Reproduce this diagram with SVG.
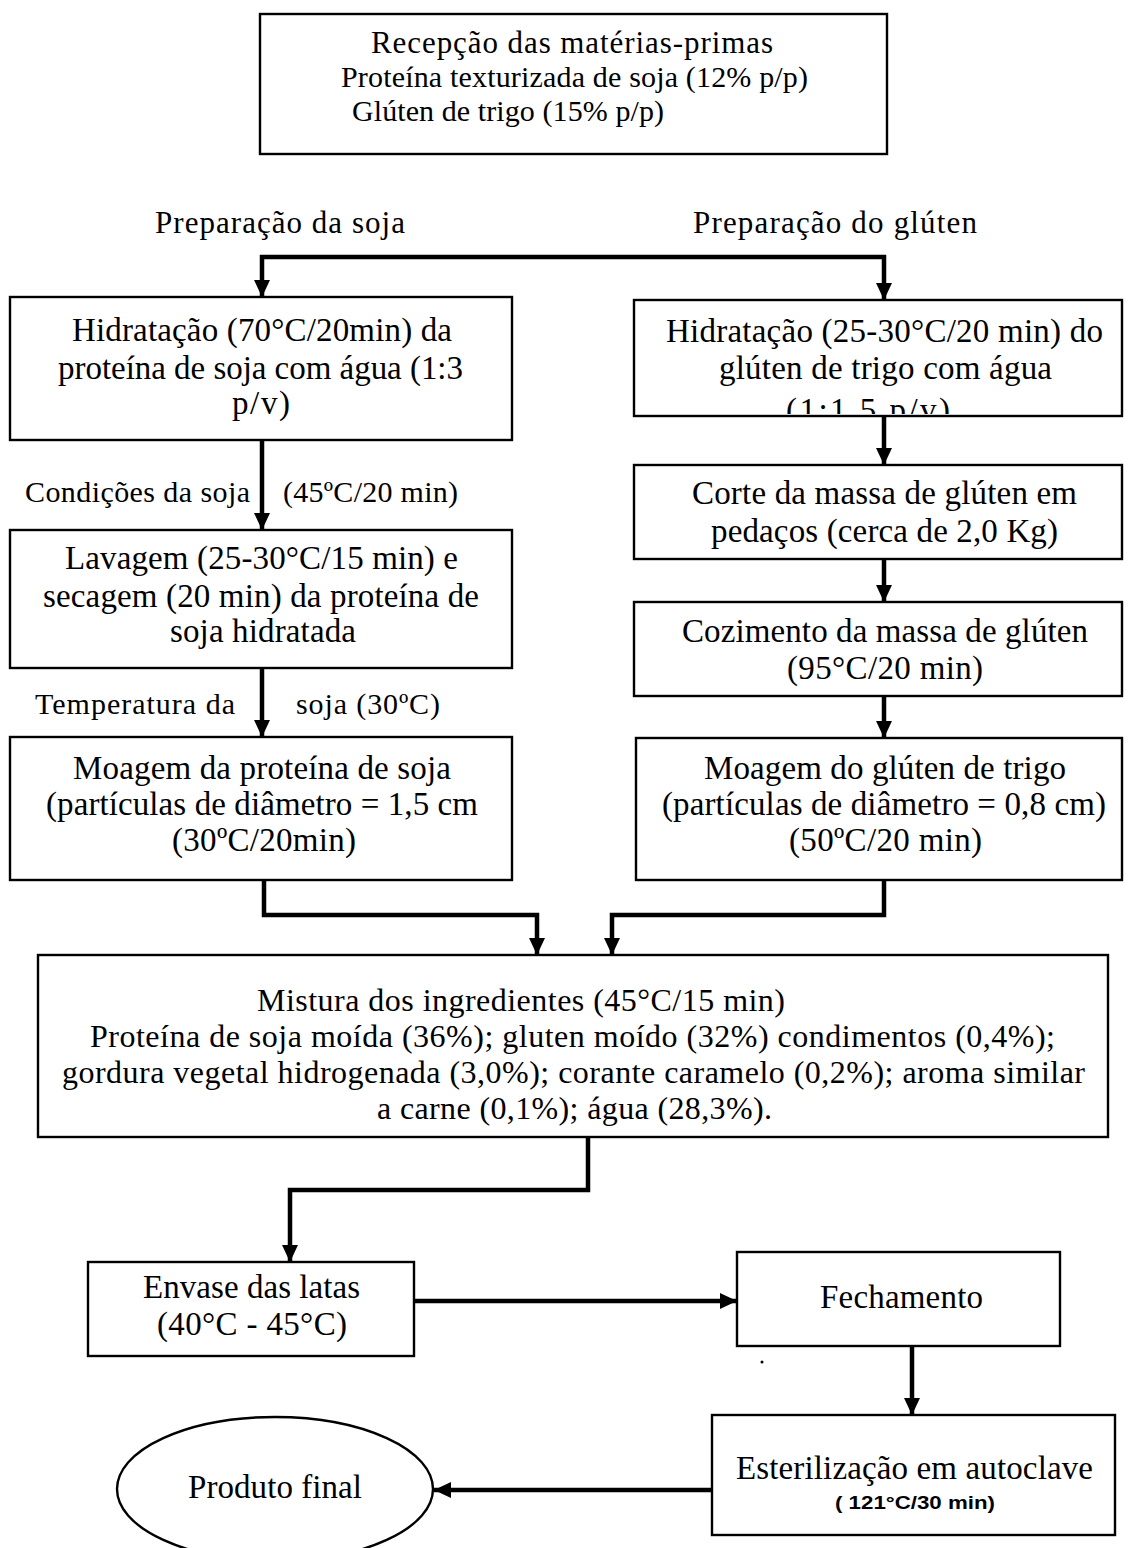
<svg xmlns="http://www.w3.org/2000/svg" width="1128" height="1548" viewBox="0 0 1128 1548">
<style>
  .box { fill: #fff; stroke: #000; stroke-width: 2.4; }
  .t { font-family: "Liberation Serif", "Times New Roman", serif; fill: #000; text-anchor: start; }
  .b { font-size: 33px; }
  .s { font-size: 31px; }
  .c { font-size: 30px; }
  .m { font-size: 32px; }
  .n { font-family: "Liberation Sans", Arial, sans-serif; font-size: 18px; font-weight: bold; fill: #000; }
  .con { fill: none; stroke: #000; stroke-width: 4.5; }
</style>
<defs>
  <marker id="ah" markerUnits="userSpaceOnUse" markerWidth="18" markerHeight="16" refX="17" refY="8" orient="auto">
    <path d="M0,0 L17,8 L0,16 Z" fill="#000"/>
  </marker>
  <clipPath id="clipR1"><rect x="634" y="300" width="488" height="114"/></clipPath>
</defs>
<rect width="1128" height="1548" fill="#fff"/>

<g id="n-recepcao">
  <rect class="box" x="260" y="14" width="627" height="140"/>
  <text class="t s" x="371" y="53" textLength="402" lengthAdjust="spacing">Recepção das matérias-primas</text>
  <text class="t c" x="341" y="87" textLength="467" lengthAdjust="spacing">Proteína texturizada de soja (12% p/p)</text>
  <text class="t c" x="352" y="121" textLength="312" lengthAdjust="spacing">Glúten de trigo (15% p/p)</text>
</g>

<g id="labels">
  <text class="t s" x="155" y="233" textLength="250" lengthAdjust="spacing">Preparação da soja</text>
  <text class="t s" x="693" y="233" textLength="284" lengthAdjust="spacing">Preparação do glúten</text>
  <text class="t c" x="25" y="502" textLength="225" lengthAdjust="spacing">Condições da soja</text>
  <text class="t c" x="283" y="502" textLength="175" lengthAdjust="spacing">(45ºC/20 min)</text>
  <text class="t c" x="35" y="714" textLength="200" lengthAdjust="spacing">Temperatura  da</text>
  <text class="t c" x="296" y="714" textLength="144" lengthAdjust="spacing">soja  (30ºC)</text>
</g>

<g id="n-hidr-soja">
  <rect class="box" x="10" y="297" width="502" height="143"/>
  <text class="t b" x="72" y="341" textLength="380" lengthAdjust="spacing">Hidratação (70°C/20min) da</text>
  <text class="t b" x="58" y="379" textLength="405" lengthAdjust="spacing">proteína de soja com água (1:3</text>
  <text class="t b" x="232" y="414" textLength="58" lengthAdjust="spacing">p/v)</text>
</g>

<g id="n-hidr-gluten">
  <rect class="box" x="634" y="300" width="488" height="116"/>
  <text class="t b" x="666" y="342" textLength="437" lengthAdjust="spacing">Hidratação (25-30°C/20 min) do</text>
  <text class="t b" x="719" y="379" textLength="333" lengthAdjust="spacing">glúten de trigo com água</text>
  <text class="t b" x="786" y="421" textLength="164" lengthAdjust="spacing" clip-path="url(#clipR1)">(1:1.5 p/v)</text>
</g>

<g id="n-lavagem">
  <rect class="box" x="10" y="530" width="502" height="138"/>
  <text class="t b" x="65" y="569" textLength="393" lengthAdjust="spacing">Lavagem (25-30°C/15 min) e</text>
  <text class="t b" x="43" y="607" textLength="436" lengthAdjust="spacing">secagem (20 min) da proteína de</text>
  <text class="t b" x="170" y="642" textLength="186" lengthAdjust="spacing">soja hidratada</text>
</g>

<g id="n-moagem-soja">
  <rect class="box" x="10" y="737" width="502" height="143"/>
  <text class="t b" x="73" y="779" textLength="378" lengthAdjust="spacing">Moagem da proteína de soja</text>
  <text class="t b" x="46" y="815" textLength="432" lengthAdjust="spacing">(partículas de diâmetro = 1,5 cm</text>
  <text class="t b" x="172" y="851" textLength="184" lengthAdjust="spacing">(30ºC/20min)</text>
</g>

<g id="n-corte">
  <rect class="box" x="634" y="465" width="488" height="94"/>
  <text class="t b" x="692" y="504" textLength="385" lengthAdjust="spacing">Corte da massa de glúten em</text>
  <text class="t b" x="711" y="542" textLength="347" lengthAdjust="spacing">pedaços (cerca de 2,0 Kg)</text>
</g>

<g id="n-cozimento">
  <rect class="box" x="634" y="602" width="488" height="94"/>
  <text class="t b" x="682" y="642" textLength="406" lengthAdjust="spacing">Cozimento da massa de glúten</text>
  <text class="t b" x="787" y="679" textLength="196" lengthAdjust="spacing">(95°C/20 min)</text>
</g>

<g id="n-moagem-gluten">
  <rect class="box" x="636" y="738" width="486" height="142"/>
  <text class="t b" x="704" y="779" textLength="362" lengthAdjust="spacing">Moagem do glúten de trigo</text>
  <text class="t b" x="662" y="815" textLength="444" lengthAdjust="spacing">(partículas de diâmetro = 0,8 cm)</text>
  <text class="t b" x="789" y="851" textLength="193" lengthAdjust="spacing">(50ºC/20 min)</text>
</g>

<g id="n-mistura">
  <rect class="box" x="38" y="955" width="1070" height="182"/>
  <text class="t m" x="257" y="1011" textLength="528" lengthAdjust="spacing">Mistura dos ingredientes (45°C/15 min)</text>
  <text class="t m" x="90" y="1047" textLength="965" lengthAdjust="spacing">Proteína de soja moída (36%); gluten moído (32%) condimentos (0,4%);</text>
  <text class="t m" x="62" y="1083" textLength="1023" lengthAdjust="spacing">gordura vegetal hidrogenada (3,0%); corante caramelo (0,2%); aroma similar</text>
  <text class="t m" x="377" y="1119" textLength="395" lengthAdjust="spacing">a carne (0,1%); água (28,3%).</text>
</g>

<g id="n-envase">
  <rect class="box" x="88" y="1262" width="326" height="94"/>
  <text class="t b" x="143" y="1298" textLength="217" lengthAdjust="spacing">Envase das latas</text>
  <text class="t b" x="157" y="1335" textLength="190" lengthAdjust="spacing">(40°C - 45°C)</text>
</g>

<g id="n-fechamento">
  <rect class="box" x="737" y="1252" width="323" height="94"/>
  <text class="t b" x="820" y="1308" textLength="163" lengthAdjust="spacing">Fechamento</text>
</g>

<circle cx="762" cy="1362" r="1.5" fill="#000"/>

<g id="n-esterilizacao">
  <rect class="box" x="712" y="1415" width="403" height="120"/>
  <text class="t b" x="736" y="1479" textLength="357" lengthAdjust="spacing">Esterilização em autoclave</text>
  <text class="n" x="835" y="1509" textLength="160" lengthAdjust="spacingAndGlyphs">( 121°C/30 min)</text>
</g>

<g id="n-produto">
  <ellipse cx="275" cy="1489" rx="158" ry="72" fill="#fff" stroke="#000" stroke-width="2.4"/>
  <text class="t b" x="188" y="1498" textLength="174" lengthAdjust="spacing">Produto final</text>
</g>

<g id="connectors">
  <path class="con" d="M573,257 H262 V297" marker-end="url(#ah)"/>
  <path class="con" d="M573,257 H884 V300" marker-end="url(#ah)"/>
  <path class="con" d="M262,440 V530" marker-end="url(#ah)"/>
  <path class="con" d="M262,668 V737" marker-end="url(#ah)"/>
  <path class="con" d="M884,416 V465" marker-end="url(#ah)"/>
  <path class="con" d="M884,559 V602" marker-end="url(#ah)"/>
  <path class="con" d="M884,696 V738" marker-end="url(#ah)"/>
  <path class="con" d="M264,880 V915 H537 V955" marker-end="url(#ah)"/>
  <path class="con" d="M884,880 V915 H612 V955" marker-end="url(#ah)"/>
  <path class="con" d="M588,1137 V1190 H290 V1262" marker-end="url(#ah)"/>
  <path class="con" d="M414,1301 H737" marker-end="url(#ah)"/>
  <path class="con" d="M912,1346 V1415" marker-end="url(#ah)"/>
  <path class="con" d="M712,1490 H434" marker-end="url(#ah)"/>
</g>
</svg>
